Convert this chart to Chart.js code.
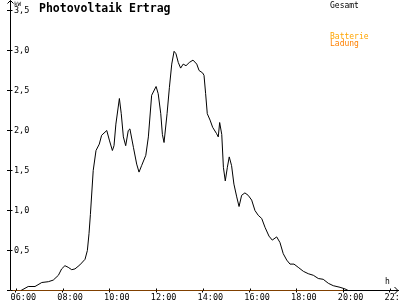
<!DOCTYPE html>
<html>
<head>
<meta charset="utf-8">
<script src="https://cdn.jsdelivr.net/npm/chart.js@4/dist/chart.umd.min.js"></script>
<style>
  html, body { margin: 0; padding: 0; background: #fff; }
  canvas { display: block; }
</style>
</head>
<body>
<canvas id="pvChart" width="400" height="300"></canvas>
<script>
// time of day in hours, output in kW
const hours = [
  6.22, 6.53, 6.82, 7.11, 7.39, 7.60, 7.82, 7.96, 8.10, 8.24,
  8.39, 8.53, 8.74, 8.96, 9.06, 9.13, 9.19, 9.31, 9.43, 9.57,
  9.67, 9.89, 10.00, 10.13, 10.20, 10.28, 10.43, 10.51, 10.60, 10.70,
  10.81, 10.88, 11.03, 11.17, 11.27, 11.38, 11.56, 11.67, 11.81, 12.00,
  12.09, 12.20, 12.27, 12.34, 12.47, 12.57, 12.67, 12.77, 12.85, 12.95,
  13.05, 13.16, 13.28, 13.42, 13.58, 13.74, 13.84, 13.99, 14.05, 14.12,
  14.19, 14.31, 14.42, 14.59, 14.66, 14.72, 14.81, 14.88, 14.96, 15.05,
  15.13, 15.23, 15.33, 15.45, 15.55, 15.66, 15.80, 15.94, 16.09, 16.23,
  16.37, 16.52, 16.66, 16.83, 16.97, 17.16, 17.30, 17.44, 17.59, 17.73,
  17.90, 18.08, 18.30, 18.51, 18.73, 18.94, 19.15, 19.37, 19.58, 19.87,
  20.08, 20.22
];
const gesamt = [
  0, 0.05, 0.05, 0.10, 0.11, 0.13, 0.19, 0.27, 0.31, 0.29,
  0.26, 0.27, 0.32, 0.39, 0.50, 0.71, 0.95, 1.50, 1.75, 1.83,
  1.94, 2.00, 1.88, 1.75, 1.81, 2.08, 2.40, 2.21, 1.92, 1.81,
  2.00, 2.02, 1.79, 1.58, 1.48, 1.56, 1.69, 1.92, 2.44, 2.55,
  2.46, 2.21, 1.95, 1.85, 2.21, 2.54, 2.83, 2.99, 2.96, 2.85,
  2.78, 2.83, 2.81, 2.85, 2.88, 2.83, 2.75, 2.72, 2.69, 2.46,
  2.21, 2.13, 2.04, 1.96, 1.92, 2.10, 1.95, 1.54, 1.37, 1.54,
  1.67, 1.56, 1.33, 1.17, 1.05, 1.19, 1.22, 1.19, 1.13, 1.00,
  0.94, 0.90, 0.79, 0.68, 0.63, 0.67, 0.60, 0.46, 0.38, 0.33,
  0.33, 0.29, 0.24, 0.21, 0.19, 0.15, 0.14, 0.09, 0.06, 0.04,
  0.02, 0
];
const batteryHours = [5.75, 20.0];
const batteryKW = [0, 0];

const title = 'Photovoltaik Ertrag';
const legendGesamt = 'Gesamt';
const legendBattery = ['Batterie', 'Ladung'];
const yUnit = 'kW';
const xUnit = 'h';

const mono = 'DejaVu Sans Mono';

// title, legend text, unit labels, axis arrows and the inner half of the tick marks
const decorations = {
  id: 'decorations',
  afterDraw(chart) {
    const ctx = chart.ctx;
    const area = chart.chartArea;
    const ax = Math.round(area.left) + 0.5;
    const ay = Math.round(area.bottom - 0.5) + 0.5;
    const right = area.right;

    ctx.save();
    ctx.strokeStyle = '#000';
    ctx.lineWidth = 1;
    ctx.beginPath();
    // y axis up to the top with arrow
    ctx.moveTo(ax, area.top);
    ctx.lineTo(ax, 0.5);
    ctx.moveTo(ax - 3, 3.5);
    ctx.lineTo(ax, 0.5);
    ctx.lineTo(ax + 3, 3.5);
    // x axis arrow
    ctx.moveTo(right - 3.5, ay - 3.5);
    ctx.lineTo(right, ay);
    ctx.lineTo(right - 3.5, ay + 3.5);
    // tick marks cross the axes
    chart.scales.x.ticks.forEach(t => {
      const px = Math.round(chart.scales.x.getPixelForValue(t.value)) + 0.5;
      ctx.moveTo(px, ay - 2);
      ctx.lineTo(px, ay);
    });
    chart.scales.y.ticks.forEach(t => {
      const py = Math.round(chart.scales.y.getPixelForValue(t.value) - 0.5) + 0.5;
      ctx.moveTo(ax, py);
      ctx.lineTo(ax + 2, py);
    });
    ctx.stroke();

    ctx.textBaseline = 'alphabetic';
    ctx.textAlign = 'left';
    ctx.fillStyle = '#000';
    ctx.font = 'bold 11.5px ' + mono;
    ctx.fillText(title, 39, 12);

    ctx.font = '8px ' + mono;
    ctx.fillText(legendGesamt, 330, 8);
    ctx.fillStyle = '#ffa500';
    ctx.fillText(legendBattery[0], 330, 38.5);
    ctx.fillStyle = '#ff8000';
    ctx.fillText(legendBattery[1], 330, 46);

    ctx.fillStyle = '#000';
    ctx.font = '6px ' + mono;
    ctx.fillText(yUnit, 14, 6);
    ctx.font = '8px ' + mono;
    ctx.fillText(xUnit, 385, 284);
    ctx.restore();
  }
};

new Chart(document.getElementById('pvChart'), {
  type: 'line',
  data: {
    datasets: [
      {
        label: legendGesamt,
        data: hours.map((h, i) => ({ x: h, y: gesamt[i] })),
        borderColor: '#000',
        borderWidth: 1,
        pointRadius: 0,
        tension: 0
      },
      {
        label: legendBattery.join(' '),
        data: batteryHours.map((h, i) => ({ x: h, y: batteryKW[i] })),
        borderColor: '#ff8000',
        borderWidth: 1,
        pointRadius: 0
      }
    ]
  },
  options: {
    responsive: false,
    animation: false,
    layout: { padding: { left: 10, right: 2, top: 10.5, bottom: 0 } },
    plugins: {
      legend: { display: false },
      tooltip: { enabled: false },
      title: { display: false }
    },
    scales: {
      x: {
        type: 'linear',
        min: 5.75,
        max: 22.35,
        position: 'bottom',
        border: { display: true, color: '#000', width: 1 },
        grid: { drawOnChartArea: false, drawTicks: true, tickLength: 2, color: '#000' },
        ticks: {
          stepSize: 2,
          includeBounds: false,
          autoSkip: false,
          maxRotation: 0,
          labelOffset: 7.5,
          padding: 0,
          color: '#000',
          font: { family: mono, size: 8.5 },
          callback: v => String(v).padStart(2, '0') + ':00'
        },
        afterFit: s => { s.height = 9.5; s.paddingLeft = 0; s.paddingRight = 0; }
      },
      y: {
        min: 0,
        max: 3.5,
        position: 'left',
        border: { display: true, color: '#000', width: 1 },
        grid: { drawOnChartArea: false, tickLength: 3, color: '#000' },
        ticks: {
          stepSize: 0.5,
          mirror: true,
          padding: 4,
          color: '#000',
          font: { family: mono, size: 8.5 },
          callback: v => v === 0 ? '' : v.toFixed(1).replace('.', ',')
        },
        afterFit: s => { s.width = 0; s.paddingTop = 0; s.paddingBottom = 0; }
      }
    }
  },
  plugins: [decorations]
});
</script>
</body>
</html>
